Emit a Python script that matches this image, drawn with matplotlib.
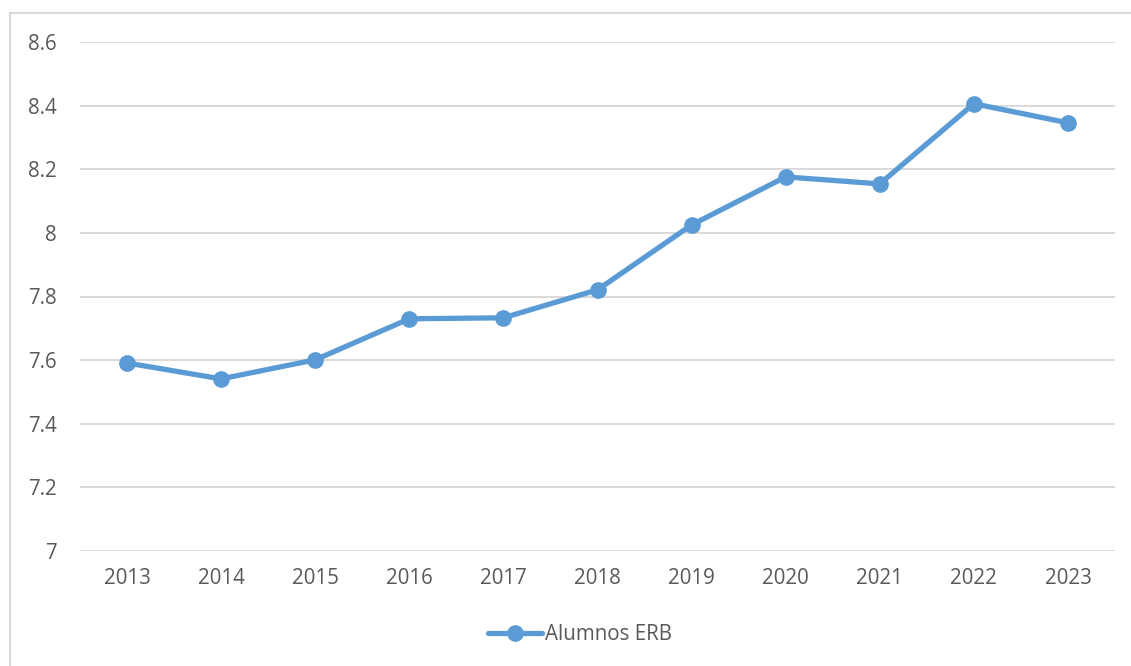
import matplotlib.pyplot as plt
from matplotlib.lines import Line2D

years = ['2013', '2014', '2015', '2016', '2017', '2018', '2019', '2020', '2021', '2022', '2023']
alumnos_erb = [7.591, 7.541, 7.601, 7.730, 7.733, 7.821, 8.025, 8.176, 8.154, 8.406, 8.346]
yticks = [7, 7.2, 7.4, 7.6, 7.8, 8, 8.2, 8.4, 8.6]
ytick_labels = ['7', '7.2', '7.4', '7.6', '7.8', '8', '8.2', '8.4', '8.6']

plt.rcParams['font.family'] = ['Open Sans', 'DejaVu Sans']
text_color = '#595959'
grid_color = '#D9D9D9'
line_color = '#5B9BD5'

W, H = 1131, 666
fig = plt.figure(figsize=(W / 100, H / 100), dpi=100)

# chart area border (only left and top edges visible in the crop)
fig.add_artist(Line2D([10 / W, 10 / W], [0, 1 - 13 / H], color=grid_color, lw=1.5))
fig.add_artist(Line2D([10 / W, 1], [1 - 13 / H, 1 - 13 / H], color=grid_color, lw=1.5))

ax = fig.add_axes([80 / W, 1 - 551 / H, (1115 - 80) / W, (551 - 42) / H])

x = list(range(len(years)))
ax.plot(x, alumnos_erb, color=line_color, lw=3.8, marker='o', markersize=11,
        solid_capstyle='round', solid_joinstyle='round', label='Alumnos ERB', zorder=3)

ax.set_xlim(-0.5, len(years) - 0.5)
ax.set_ylim(7, 8.6)
ax.set_yticks(yticks)
ax.set_yticklabels(ytick_labels)
ax.set_xticks(x)
ax.set_xticklabels(years)
ax.grid(axis='y', color=grid_color, lw=1.4)
ax.set_axisbelow(True)
for s in ax.spines.values():
    s.set_visible(False)
ax.tick_params(length=0, labelsize=14.8, colors=text_color)
ax.tick_params(axis='y', pad=17)
ax.tick_params(axis='x', pad=12)

leg = fig.legend(loc='center', bbox_to_anchor=(580 / W, 1 - 635 / H), frameon=False,
                 fontsize=14.8, handlelength=2.6, handletextpad=0.15)
for t in leg.get_texts():
    t.set_color(text_color)

fig.savefig('out.png', dpi=100)
